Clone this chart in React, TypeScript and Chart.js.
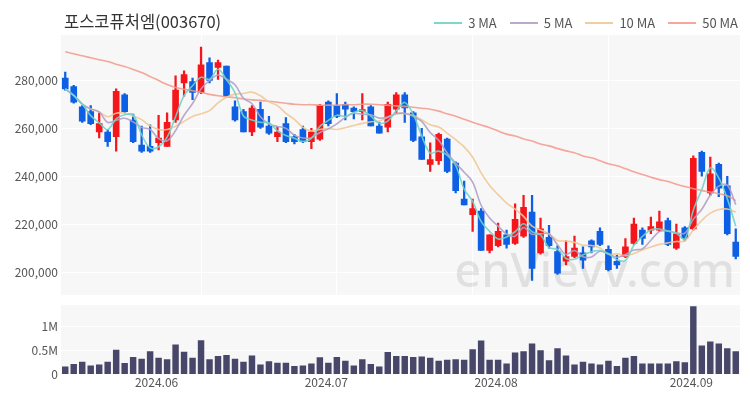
import React, { useEffect, useRef } from "react";
import { Chart, registerables } from "chart.js";

Chart.register(...registerables);

const dates = [
  "2024-05-17", "2024-05-20", "2024-05-21", "2024-05-22", "2024-05-23", "2024-05-24", "2024-05-27", "2024-05-28", "2024-05-29", "2024-05-30", "2024-05-31",
  "2024-06-03", "2024-06-04", "2024-06-05", "2024-06-07", "2024-06-10", "2024-06-11", "2024-06-12", "2024-06-13", "2024-06-14", "2024-06-17", "2024-06-18", "2024-06-19", "2024-06-20", "2024-06-21", "2024-06-24", "2024-06-25", "2024-06-26", "2024-06-27", "2024-06-28",
  "2024-07-01", "2024-07-02", "2024-07-03", "2024-07-04", "2024-07-05", "2024-07-08", "2024-07-09", "2024-07-10", "2024-07-11", "2024-07-12", "2024-07-15", "2024-07-16", "2024-07-17", "2024-07-18", "2024-07-19", "2024-07-22", "2024-07-23", "2024-07-24", "2024-07-25", "2024-07-26", "2024-07-29", "2024-07-30", "2024-07-31",
  "2024-08-01", "2024-08-02", "2024-08-05", "2024-08-06", "2024-08-07", "2024-08-08", "2024-08-09", "2024-08-12", "2024-08-13", "2024-08-14", "2024-08-16", "2024-08-19", "2024-08-20", "2024-08-21", "2024-08-22", "2024-08-23", "2024-08-26", "2024-08-27", "2024-08-28", "2024-08-29", "2024-08-30",
  "2024-09-02", "2024-09-03", "2024-09-04", "2024-09-05", "2024-09-06", "2024-09-09",
];

const opens = [
  281000, 277500, 269000, 267000, 258500, 258500, 256500, 274000, 263500, 253000,
  252500, 254000, 252500, 263500, 279000, 279500, 275000, 287500, 285500, 286000,
  269000, 267000, 258500, 268000, 261000, 256500, 262000, 256500, 259500, 254500,
  255500, 271000, 269500, 270000, 268500, 267000, 269000, 261000, 260500, 268000,
  274000, 266500, 256500, 245000, 246500, 255500, 245500, 230500, 224000, 225500,
  209000, 211000, 215500, 212000, 215000, 225000, 208000, 214500, 208500, 204500,
  206500, 208000, 213000, 217000, 209500, 204500, 206500, 212000, 217500, 217500,
  217500, 221500, 210000, 218500, 218000, 250000, 233000, 245000, 236000, 212500,
];
const highs = [
  283500, 278000, 269500, 269500, 266500, 259500, 276500, 274500, 266000, 261000,
  261500, 265500, 266500, 282000, 284000, 281000, 294000, 289500, 288500, 286000,
  271500, 268000, 269500, 271000, 265000, 260500, 264500, 257500, 261000, 260000,
  270000, 271500, 274500, 271000, 269000, 274500, 269500, 262500, 271000, 275000,
  275000, 267000, 260000, 254000, 258000, 256000, 246000, 238000, 230500, 226500,
  215500, 220500, 217500, 228500, 232000, 232000, 222500, 219500, 211000, 213000,
  215000, 210500, 213500, 218500, 211000, 207000, 214000, 222500, 218500, 223000,
  225500, 222500, 220000, 219000, 248500, 250500, 248000, 245500, 240000, 218000,
];
const lows = [
  276000, 270500, 262500, 261500, 256000, 252500, 250500, 266500, 254000, 250000,
  250000, 251000, 252500, 262500, 273500, 272000, 274500, 279000, 280500, 273000,
  263000, 258500, 257000, 260000, 257500, 254500, 254000, 253500, 254000, 251500,
  255000, 261000, 264500, 263500, 264000, 263500, 261000, 258000, 258500, 266500,
  262500, 254500, 247000, 242000, 245000, 241500, 233000, 228000, 217000, 209000,
  208000, 210500, 210000, 211500, 214500, 196500, 207500, 210000, 199000, 203000,
  206000, 201500, 208000, 211000, 200500, 201500, 206000, 211500, 211500, 216000,
  217000, 211000, 209500, 213000, 217500, 240000, 232000, 231500, 215500, 205500,
];
const closes = [
  276500, 271000, 263000, 262000, 262000, 254500, 275500, 267000, 254500, 250500,
  250500, 256000, 262500, 276000, 282500, 275000, 286500, 280000, 287500, 273500,
  263500, 258500, 268500, 260500, 258000, 258500, 254500, 254500, 254500, 258500,
  269500, 262000, 265000, 268000, 267000, 267500, 261000, 258000, 270000, 274000,
  268500, 255000, 247000, 247000, 257500, 242000, 234000, 228000, 226500, 209000,
  215500, 217000, 211500, 222000, 227000, 201500, 218000, 211000, 199500, 206500,
  210000, 205000, 210500, 211500, 201000, 203000, 210500, 220000, 214000, 219000,
  221000, 211500, 216000, 214000, 247500, 242000, 241000, 235000, 216000, 206500,
];
const volumes = [
  170000, 220000, 270000, 190000, 210000, 270000, 520000, 240000, 370000, 330000,
  490000, 350000, 320000, 630000, 480000, 350000, 720000, 320000, 390000, 410000,
  330000, 270000, 400000, 210000, 280000, 250000, 250000, 180000, 190000, 230000,
  360000, 250000, 370000, 290000, 190000, 320000, 220000, 170000, 470000, 390000,
  390000, 370000, 380000, 350000, 290000, 310000, 320000, 310000, 530000, 710000,
  310000, 310000, 230000, 460000, 490000, 650000, 510000, 300000, 550000, 400000,
  210000, 270000, 230000, 210000, 290000, 180000, 350000, 390000, 230000, 230000,
  230000, 230000, 280000, 260000, 1430000, 610000, 690000, 650000, 550000, 490000,
];
// 50-day moving average (its window starts before the visible range)
const ma50 = [
  292000, 291200, 290300, 289500, 288700, 287900, 286800, 285800, 284600, 283300,
  281700, 280000, 278300, 277100, 276300, 275700, 275000, 274200, 273600, 273200,
  272800, 272300, 271900, 271700, 271300, 270900, 270500, 270100, 269900, 269900,
  269700, 269700, 269700, 269900, 269900, 270100, 270100, 269900, 269700, 269400,
  269200, 268800, 268400, 268000, 267200, 266100, 265100, 263800, 262600, 261400,
  260300, 258900, 257600, 256800, 255600, 254700, 253500, 252700, 251600, 250600,
  249800, 248500, 247700, 246500, 245200, 244400, 243200, 241900, 240700, 239600,
  238600, 237800, 236700, 235700, 234800, 234000, 233400, 232700, 231900, 229800,
];

const priceTicks = [200000, 220000, 240000, 260000, 280000];
const volumeTicks = [0, 500000, 1000000];
const volumeTickLabels = ["0", "0.5M", "1M"];
const monthTickDates = ["2024-06-03", "2024-07-02", "2024-07-30", "2024-09-02"];
const monthTickLabels = ["2024.06", "2024.07", "2024.08", "2024.09"];
const gridDates = ["2024-06-11", "2024-07-03", "2024-07-25", "2024-08-19"];

const title = "포스코퓨처엠(003670)";
const watermark = "enVievv.com";

const UP = "#f5161c";
const DOWN = "#0d5fe3";
const VOL = "#474769";
const MA_COLORS = ["rgba(110,212,198,0.9)", "rgba(176,160,200,0.9)", "rgba(240,200,150,0.9)", "rgba(244,152,138,0.85)"];
const MA_LABELS = ["3 MA", "5 MA", "10 MA", "50 MA"];
const FONT = "'Noto Sans CJK KR', 'Noto Sans', sans-serif";

function movingAverage(values: number[], n: number): number[] {
  return values.map((_, i) => {
    const w = values.slice(Math.max(0, i - n + 1), i + 1);
    return w.reduce((a, b) => a + b, 0) / w.length;
  });
}

const bgPlugin = {
  id: "plotBg",
  beforeDraw(chart: any) {
    const { ctx, chartArea } = chart;
    ctx.save();
    ctx.fillStyle = "#f7f7f7";
    ctx.fillRect(chartArea.left, chartArea.top, chartArea.right - chartArea.left, chartArea.bottom - chartArea.top);
    ctx.restore();
  },
};

const watermarkPlugin = {
  id: "watermark",
  beforeDatasetsDraw(chart: any) {
    const { ctx, chartArea } = chart;
    ctx.save();
    ctx.font = `500 47px 'Noto Sans', sans-serif`;
    ctx.fillStyle = "rgba(0,0,0,0.09)";
    ctx.textAlign = "right";
    ctx.textBaseline = "alphabetic";
    ctx.fillText(watermark, chartArea.right - 5, chartArea.bottom - 8);
    ctx.restore();
  },
};

export default function App() {
  const priceRef = useRef<HTMLCanvasElement>(null);
  const volRef = useRef<HTMLCanvasElement>(null);

  useEffect(() => {
    Chart.defaults.font.family = FONT;
    const colors = closes.map((c, i) => (c >= opens[i] ? UP : DOWN));
    const ma3 = movingAverage(closes, 3);
    const ma5 = movingAverage(closes, 5);
    const ma10 = movingAverage(closes, 10);
    const maData = [ma3, ma5, ma10, ma50];

    const lineSets = maData.map((d, k) => ({
      type: "line" as const,
      label: MA_LABELS[k],
      data: d,
      borderColor: MA_COLORS[k],
      borderWidth: 1.6,
      pointRadius: 0,
      tension: 0.35,
      order: 0,
    }));

    const price = new Chart(priceRef.current!, {
      type: "bar",
      data: {
        labels: dates,
        datasets: [
          ...lineSets,
          {
            type: "bar",
            label: "body",
            data: opens.map((o, i) => [o, closes[i]]),
            backgroundColor: colors,
            barThickness: 6,
            minBarLength: 2,
            grouped: false,
            order: 1,
          } as any,
          {
            type: "bar",
            label: "wick",
            data: lows.map((l, i) => [l, highs[i]]),
            backgroundColor: colors,
            barThickness: 1.6,
            grouped: false,
            order: 2,
          } as any,
        ],
      },
      options: {
        responsive: false,
        animation: false,
        layout: { padding: { top: 35, right: 10, bottom: 0, left: 0 } },
        plugins: { legend: { display: false }, tooltip: { enabled: false }, title: { display: false } },
        scales: {
          x: {
            type: "category",
            offset: true,
            border: { display: false },
            grid: {
              offset: false,
              drawTicks: false,
              lineWidth: 1,
              color: (ctx: any) => (gridDates.includes(dates[ctx.index]) ? "#ffffff" : "rgba(0,0,0,0)"),
            },
            ticks: { display: false, autoSkip: false },
          },
          y: {
            min: 190500,
            max: 299000,
            border: { display: false },
            afterBuildTicks: (s: any) => {
              s.ticks = priceTicks.map((v) => ({ value: v }));
            },
            afterFit: (s: any) => {
              s.width = 61;
            },
            grid: { color: "#ffffff", drawTicks: false, lineWidth: 1 },
            ticks: {
              padding: 3,
              color: "#555555",
              font: { size: 12, family: FONT },
              callback: (v: any) => Number(v).toLocaleString("en-US"),
            },
          },
        },
      },
      plugins: [bgPlugin, watermarkPlugin],
    });

    const vol = new Chart(volRef.current!, {
      type: "bar",
      data: {
        labels: dates,
        datasets: [
          {
            label: "volume",
            data: volumes,
            backgroundColor: VOL,
            categoryPercentage: 1,
            barPercentage: 0.76,
          },
        ],
      },
      options: {
        responsive: false,
        animation: false,
        layout: { padding: { top: 0, right: 10, bottom: 9, left: 0 } },
        plugins: { legend: { display: false }, tooltip: { enabled: false } },
        scales: {
          x: {
            type: "category",
            offset: true,
            border: { display: false },
            grid: { display: false, drawTicks: false },
            ticks: {
              autoSkip: false,
              maxRotation: 0,
              minRotation: 0,
              padding: 1,
              labelOffset: -2,
              color: "#555555",
              font: { size: 12, family: FONT },
              callback: (_v: any, idx: number) => {
                const k = monthTickDates.indexOf(dates[idx]);
                return k >= 0 ? monthTickLabels[k] : "";
              },
            },
          },
          y: {
            min: 0,
            max: 1450000,
            border: { display: false },
            afterBuildTicks: (s: any) => {
              s.ticks = volumeTicks.map((v) => ({ value: v }));
            },
            afterFit: (s: any) => {
              s.width = 61;
            },
            grid: { color: "#ffffff", drawTicks: false, lineWidth: 1 },
            ticks: {
              padding: 3,
              color: "#555555",
              font: { size: 12, family: FONT },
              callback: (v: any) => {
                const k = volumeTicks.indexOf(Number(v));
                return k >= 0 ? volumeTickLabels[k] : "";
              },
            },
          },
        },
      },
      plugins: [bgPlugin],
    });

    return () => {
      price.destroy();
      vol.destroy();
    };
  }, []);

  return (
    <div style={{ position: "fixed", left: 0, top: 0, width: 750, height: 400, background: "#ffffff", fontFamily: FONT }}>
      <canvas ref={priceRef} width={750} height={305} style={{ position: "absolute", left: 0, top: 0 }} />
      <canvas ref={volRef} width={750} height={105} style={{ position: "absolute", left: 0, top: 295 }} />
      <div style={{ position: "absolute", left: 64, top: 9, fontSize: 16.5, lineHeight: "24px", color: "#333333" }}>{title}</div>
      <div style={{ position: "absolute", right: 12, top: 14, display: "flex", alignItems: "center", gap: 13 }}>
        {MA_LABELS.map((l, k) => (
          <div key={l} style={{ display: "flex", alignItems: "center" }}>
            <span style={{ display: "inline-block", width: 28, height: 2, background: MA_COLORS[k] }} />
            <span style={{ marginLeft: 6, fontSize: 13, lineHeight: "18px", color: "#555555" }}>{l}</span>
          </div>
        ))}
      </div>
    </div>
  );
}
